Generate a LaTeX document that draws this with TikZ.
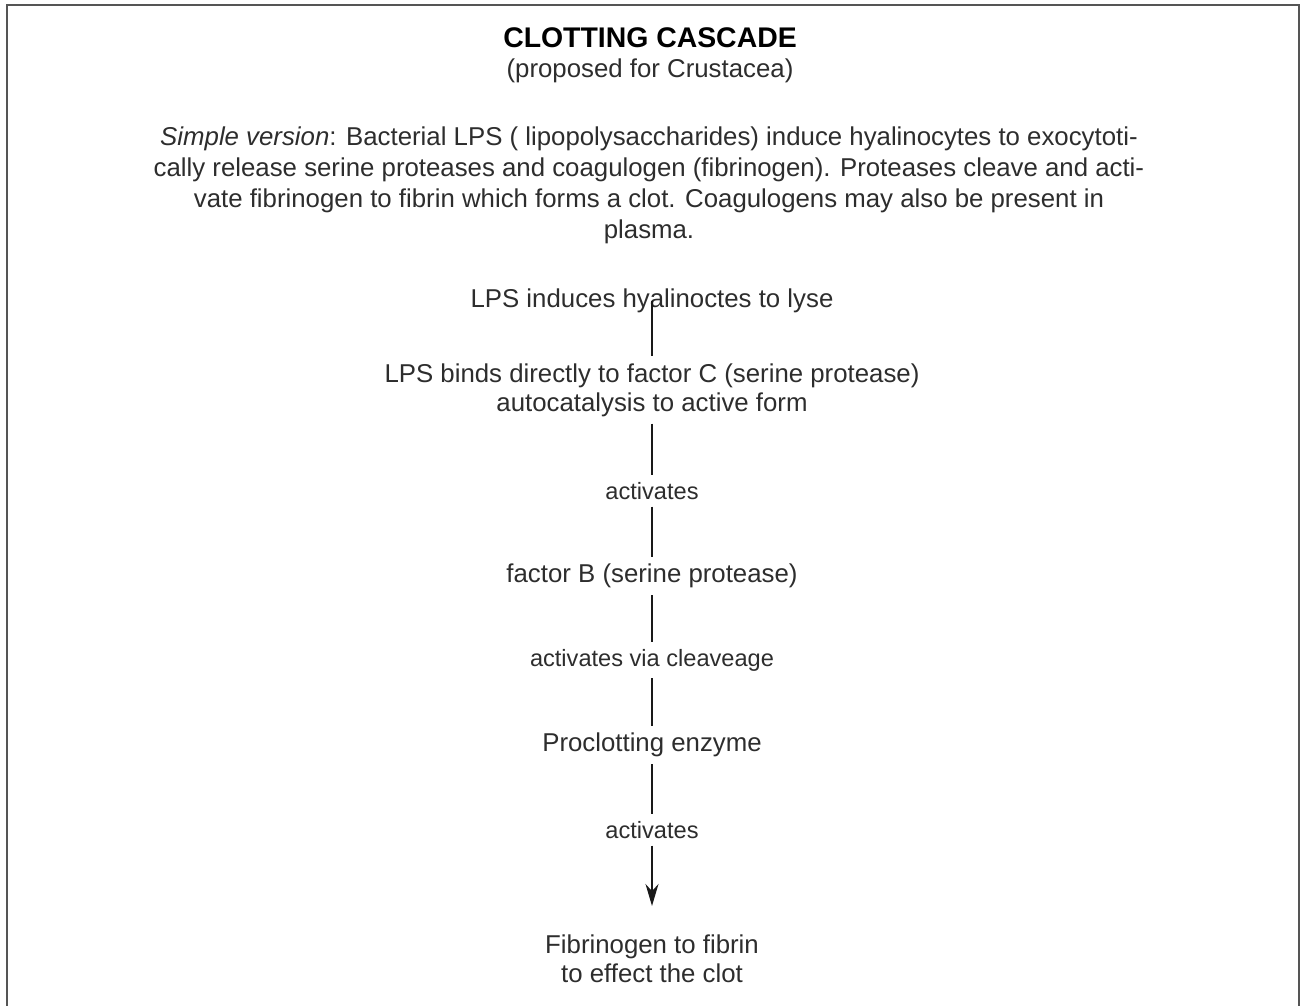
\documentclass[tikz,border=0pt]{standalone}
\usepackage{fontspec}
\setmainfont{Liberation Sans}
\usepackage{xcolor}
\usepackage{tikz}
\usetikzlibrary{arrows.meta, positioning}
\definecolor{framegray}{RGB}{85, 85, 85}
\definecolor{inkgray}{RGB}{45, 45, 45}

\begin{document}
\begin{tikzpicture}[
    x=0.5pt, y=-0.5pt,
    headline/.style={text=black, font=\bfseries\fontsize{14.2}{17}\selectfont},
    stage/.style={align=center, text=inkgray, font=\fontsize{12.9}{14.5}\selectfont},
    verb/.style={text=inkgray, font=\fontsize{11.8}{14}\selectfont},
    link/.style={draw=black!90, line width=0.7pt},
    frame/.style={draw=framegray, line width=1pt}
]
    \useasboundingbox (0,0) rectangle (1301,1006);

    % Frame, open at the bottom
    \draw[frame] (7,1006) -- (7,5) -- (1299,5) -- (1299,1006);

    % Heading
    \node[headline] (title) at (650,38) {CLOTTING CASCADE};
    \node[stage] (subtitle) at (650,71) {(proposed for Crustacea)};

    % Summary
    \node[stage, font=\fontsize{12.9}{15.5}\selectfont] (summary) at (649,185) {
        \textit{Simple version}: Bacterial LPS ( lipopolysaccharides) induce hyalinocytes to exocytoti-\\
        cally release serine proteases and coagulogen (fibrinogen). Proteases cleave and acti-\\
        vate fibrinogen to fibrin which forms a clot. Coagulogens may also be present in\\
        plasma.
    };

    % Cascade
    \node[stage] (lps) at (652,301) {LPS induces hyalinoctes to lyse};
    \node[stage] (factorC) at (652,390) {
        LPS binds directly to factor C (serine protease)\\
        autocatalysis to active form
    };
    \node[verb] (act1) at (652,491) {activates};
    \node[stage] (factorB) at (652,576) {factor B (serine protease)};
    \node[verb] (act2) at (652,660) {activates via cleaveage};
    \node[stage] (enzyme) at (652,745) {Proclotting enzyme};
    \node[verb] (act3) at (652,830) {activates};
    \node[stage] (fibrin) at (652,959) {
        Fibrinogen to fibrin\\
        to effect the clot
    };

    % Connectors
    \draw[link] (lps.center) -- (factorC);
    \draw[link] (factorC) -- (act1);
    \draw[link] (act1) -- (factorB);
    \draw[link] (factorB) -- (act2);
    \draw[link] (act2) -- (enzyme);
    \draw[link] (enzyme) -- (act3);
    \draw[link, -{Stealth[length=11pt, width=6.5pt]}, shorten >=11pt] (act3) -- (fibrin);
\end{tikzpicture}
\end{document}
